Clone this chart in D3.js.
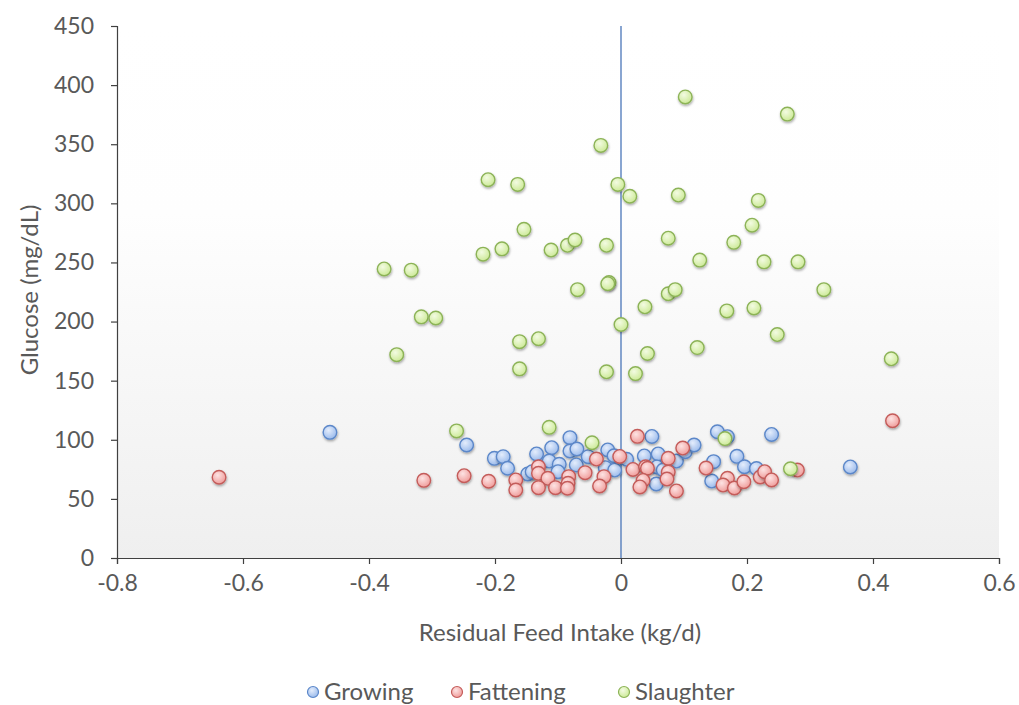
<!DOCTYPE html>
<html>
<head>
<meta charset="utf-8">
<script src="https://cdn.jsdelivr.net/npm/d3@7"></script>
<style>
  body { margin: 0; background: #fff; }
  text { font-family: Lato, "Noto Sans", sans-serif; fill: #595959; }
</style>
</head>
<body>
<div id="container"></div>
<script>
// series: [residual feed intake (kg/d), glucose (mg/dL)]
var growing = [
  [-0.462, 106.3], [-0.245, 95.6], [-0.201, 84.3], [-0.187, 85.7], [-0.180, 75.9],
  [-0.148, 71.1], [-0.141, 73.0], [-0.134, 88.0], [-0.110, 93.3], [-0.114, 82.0],
  [-0.098, 79.3], [-0.100, 73.0], [-0.081, 101.8], [-0.081, 90.5], [-0.070, 92.2],
  [-0.071, 78.7], [-0.052, 85.7], [-0.021, 91.4], [-0.011, 86.5], [-0.025, 76.4],
  [-0.010, 74.4], [0.009, 83.5], [0.049, 102.8], [0.037, 86.3], [0.059, 88.0],
  [0.057, 77.0], [0.056, 62.6], [0.067, 74.4], [0.088, 82.0], [0.102, 89.9],
  [0.116, 95.6], [0.153, 106.8], [0.169, 102.6], [0.147, 81.5], [0.144, 65.1],
  [0.184, 86.0], [0.196, 77.2], [0.215, 75.7], [0.239, 104.5], [0.364, 77.0]
];
var fattening = [
  [-0.638, 68.3], [-0.313, 65.7], [-0.249, 69.6], [-0.210, 64.9], [-0.167, 66.0],
  [-0.167, 57.5], [-0.131, 77.2], [-0.131, 71.6], [-0.116, 67.4], [-0.131, 59.5],
  [-0.104, 59.5], [-0.083, 68.8], [-0.084, 63.2], [-0.085, 59.0], [-0.057, 72.2],
  [-0.039, 83.7], [-0.027, 68.8], [-0.034, 60.9], [-0.002, 85.9], [0.026, 102.9],
  [0.019, 74.9], [0.039, 77.2], [0.042, 75.9], [0.035, 65.6], [0.030, 60.1],
  [0.075, 84.3], [0.075, 72.7], [0.073, 66.8], [0.098, 93.0], [0.088, 56.7],
  [0.135, 76.1], [0.169, 67.4], [0.162, 61.7], [0.180, 59.2], [0.195, 64.5],
  [0.221, 68.5], [0.228, 73.0], [0.239, 66.0], [0.280, 74.4], [0.431, 116.1]
];
var slaughter = [
  [0.102, 390], [0.264, 375.5], [-0.032, 349], [-0.211, 320], [-0.164, 316],
  [-0.005, 316], [0.014, 306], [0.091, 307], [0.218, 302.5], [-0.154, 278],
  [0.208, 281.5], [-0.219, 257], [-0.189, 261.5], [-0.111, 260.5], [-0.085, 264.5],
  [-0.073, 269], [-0.023, 264.5], [0.075, 270.5], [0.179, 267], [0.125, 252],
  [0.227, 250.5], [0.281, 250.5], [-0.376, 244.5], [-0.333, 243.5], [-0.069, 227],
  [-0.019, 233], [-0.021, 232], [0.075, 223.5], [0.086, 227], [0.322, 227],
  [-0.317, 204], [-0.294, 203], [0.038, 212.5], [0.168, 209], [0.211, 211.5],
  [0, 197.5], [-0.161, 183], [-0.131, 185.5], [0.248, 189], [-0.356, 172],
  [0.042, 173], [0.121, 178], [-0.161, 160], [-0.023, 157.5], [0.023, 156],
  [0.429, 168.5], [-0.261, 107.5], [-0.114, 110.5], [-0.046, 97.5], [0.165, 101],
  [0.269, 75.5]
];

var seriesNames = ["Growing", "Fattening", "Slaughter"];
var xTicks = [-0.8, -0.6, -0.4, -0.2, 0, 0.2, 0.4, 0.6];
var yTicks = [0, 50, 100, 150, 200, 250, 300, 350, 400, 450];

// colores de cada serie: [centro, borde del relleno, linea]
var colores = {
  Growing:   ["#e4edfc", "#9dbcec", "#5b87c9"],
  Fattening: ["#fde3e3", "#f09e9c", "#c45c5a"],
  Slaughter: ["#f3fbe2", "#cdea98", "#8cb357"]
};

var W = 1019, H = 705;
var margin = { top: 26, right: 20, bottom: 147, left: 117 };

var svg = d3.select("#container").append("svg")
  .attr("width", W)
  .attr("height", H);

var defs = svg.append("defs");

// fondo del area del grafico
var bg = defs.append("linearGradient")
  .attr("id", "bg").attr("x1", 0).attr("y1", 0).attr("x2", 0).attr("y2", 1);
bg.append("stop").attr("offset", "0%").attr("stop-color", "#ffffff");
bg.append("stop").attr("offset", "35%").attr("stop-color", "#fefefe");
bg.append("stop").attr("offset", "100%").attr("stop-color", "#efefef");

var sombra = defs.append("filter").attr("id", "sombra")
  .attr("x", "-50%").attr("y", "-50%").attr("width", "200%").attr("height", "200%");
sombra.append("feDropShadow")
  .attr("dx", 0.5).attr("dy", 1.5).attr("stdDeviation", 1.3)
  .attr("flood-color", "#000").attr("flood-opacity", 0.35);

seriesNames.forEach(function (name) {
  var g = defs.append("radialGradient").attr("id", "grad-" + name)
    .attr("cx", "40%").attr("cy", "35%").attr("r", "65%");
  g.append("stop").attr("offset", "0%").attr("stop-color", colores[name][0]);
  g.append("stop").attr("offset", "100%").attr("stop-color", colores[name][1]);
});

var x = d3.scaleLinear().domain([-0.8, 0.6]).range([margin.left, 999]);
var y = d3.scaleLinear().domain([0, 450]).range([558, margin.top]);

svg.append("rect")
  .attr("x", x(-0.8)).attr("y", y(450))
  .attr("width", x(0.6) - x(-0.8)).attr("height", y(0) - y(450))
  .attr("fill", "url(#bg)");

// ejes
var yAxis = svg.append("g")
  .attr("transform", "translate(" + x(-0.8) + ",0)")
  .call(d3.axisLeft(y).tickValues(yTicks).tickSize(6).tickPadding(17).tickFormat(d3.format("d")));
var xAxis = svg.append("g")
  .attr("transform", "translate(0," + y(0) + ")")
  .call(d3.axisBottom(x).tickValues(xTicks).tickSize(6).tickPadding(11).tickFormat(function (d) { return d === 0 ? "0" : d3.format(".1f")(d).replace("\u2212", "-"); }));

[xAxis, yAxis].forEach(function (a) {
  a.select(".domain").attr("stroke", "#404040").attr("stroke-width", 1.2);
  a.selectAll(".tick line").attr("stroke", "#404040").attr("stroke-width", 1.2);
  a.selectAll(".tick text").attr("fill", "#595959").style("font-size", "23px").style("font-family", "Lato, sans-serif");
});

// linea vertical en 0
svg.append("line")
  .attr("x1", x(0)).attr("x2", x(0))
  .attr("y1", y(450)).attr("y2", y(0))
  .attr("stroke", "#4a76b8").attr("stroke-width", 1.3);

// puntos
var series = [
  { name: "Growing", values: growing },
  { name: "Fattening", values: fattening },
  { name: "Slaughter", values: slaughter }
];

series.forEach(function (s) {
  svg.append("g").selectAll("circle")
    .data(s.values)
    .enter().append("circle")
    .attr("cx", function (d) { return x(d[0]); })
    .attr("cy", function (d) { return y(d[1]); })
    .attr("r", 6.8)
    .attr("fill", "url(#grad-" + s.name + ")")
    .attr("stroke", colores[s.name][2])
    .attr("stroke-width", 1.4)
    .attr("filter", "url(#sombra)");
});

// titulos de ejes
svg.append("text")
  .text("Residual Feed Intake (kg/d)")
  .attr("x", 560)
  .attr("y", 641)
  .attr("text-anchor", "middle")
  .style("font-size", "24px");

svg.append("text")
  .text("Glucose (mg/dL)")
  .attr("transform", "translate(38," + 290 + ") rotate(-90)")
  .attr("text-anchor", "middle")
  .style("font-size", "24px");

// leyenda
var legendX = [313, 457, 624];
var legend = svg.append("g");
series.forEach(function (s, i) {
  legend.append("circle")
    .attr("cx", legendX[i]).attr("cy", 692)
    .attr("r", 5.5)
    .attr("fill", "url(#grad-" + s.name + ")")
    .attr("stroke", colores[s.name][2])
    .attr("stroke-width", 1.2);
  legend.append("text")
    .text(s.name)
    .attr("x", legendX[i] + 11).attr("y", 700)
    .style("font-size", "24px");
});
</script>
</body>
</html>
